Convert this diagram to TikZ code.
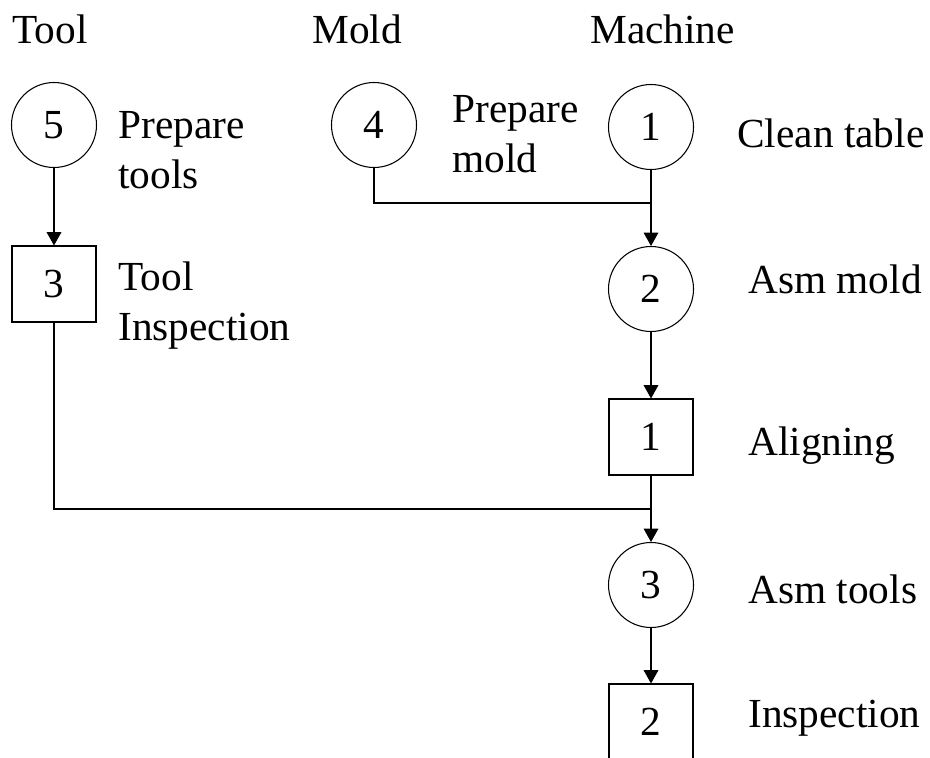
\documentclass[tikz,border=0pt]{standalone}
\usepackage{fontspec}
\setmainfont{Liberation Serif}
\usetikzlibrary{arrows.meta}

\begin{document}
\begin{tikzpicture}[x=0.75pt, y=-0.75pt, every node/.style={font=\fontsize{31}{37.5}\selectfont}]

\tikzset{
    opcircle/.style={circle, draw, thick, inner sep=0pt, minimum size=63.75pt},
    opbox/.style={rectangle, draw, thick, inner sep=0pt, minimum width=63pt, minimum height=57pt},
    lbl/.style={anchor=base west, inner sep=0pt, align=left},
    flow/.style={thick, -{Triangle[width=11pt, length=10pt]}}
}

\useasboundingbox (0,0) rectangle (930,757);

% column headers
\node[lbl] (htool) at (12,43) {Tool};
\node[lbl] (hmold) at (312,43) {Mold};
\node[lbl] (hmach) at (590,43) {Machine};

% operations
\node[opcircle] (c5) at (54,125) {5};
\node[opbox] (b3) at (54,284) {3};
\node[opcircle] (c4) at (374,125) {4};
\node[opcircle] (c1) at (651,127) {1};
\node[opcircle] (c2) at (651,289) {2};
\node[opbox] (b1) at (651,437) {1};
\node[opcircle] (c3) at (651,585) {3};
\node[opbox] (b2) at (651,722) {2};

% descriptions (base = last line)
\node[lbl] (t5) at (118,188) {Prepare\\tools};
\node[lbl] (t3) at (118,340) {Tool\\Inspection};
\node[lbl] (t4) at (452,172) {Prepare\\mold};
\node[lbl] (t1) at (737,147) {Clean table};
\node[lbl] (t2) at (748,293) {Asm mold};
\node[lbl] (t6) at (748,455) {Aligning};
\node[lbl] (t7) at (748,603) {Asm tools};
\node[lbl] (t8) at (748,727) {Inspection};

% joins
\coordinate (j1) at (651,203);
\coordinate (j2) at (651,509);

\draw[flow] (c5) -- (b3);
\draw[thick] (c4.south) |- (j1);
\draw[thick] (b3.south) |- (j2);

\foreach \a/\b in {c1/c2, c2/b1, b1/c3, c3/b2} {
    \draw[flow] (\a) -- (\b);
}

\end{tikzpicture}
\end{document}
